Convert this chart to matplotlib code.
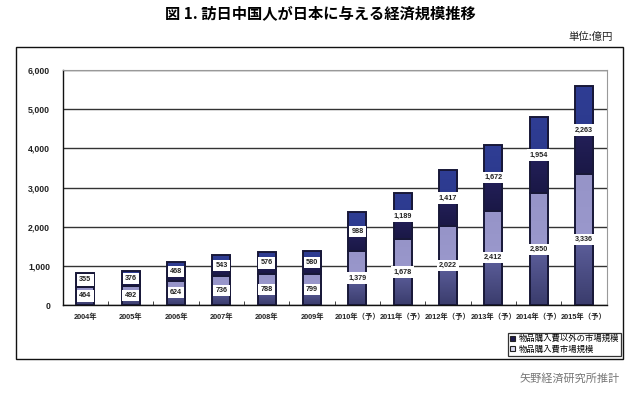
import numpy as np
import matplotlib
matplotlib.use("Agg")
import matplotlib.pyplot as plt
from matplotlib.colors import to_rgb
from matplotlib.patches import Rectangle, Patch

plt.rcParams['font.family'] = ['Liberation Sans', 'Noto Sans CJK JP', 'DejaVu Sans']

categories = ["2004年", "2005年", "2006年", "2007年", "2008年", "2009年",
              "2010年（予）", "2011年（予）", "2012年（予）", "2013年（予）",
              "2014年（予）", "2015年（予）"]
goods = [464, 492, 624, 736, 788, 799, 1379, 1678, 2022, 2412, 2850, 3336]
other = [355, 376, 468, 543, 576, 580, 988, 1189, 1417, 1672, 1954, 2263]
series_names = ["物品購入費以外の市場規模", "物品購入費市場規模"]
yticks = [0, 1000, 2000, 3000, 4000, 5000, 6000]

fig = plt.figure(figsize=(6.4, 3.97), dpi=100)
ax = fig.add_axes([0.098, 0.2317, 0.850, 0.592])

x = np.arange(len(categories))
w = 0.40
edge = '#181838'
b1 = ax.bar(x, goods, w, facecolor='none', edgecolor=edge, linewidth=1.4, zorder=3)
b2 = ax.bar(x, other, w, bottom=goods, facecolor='none', edgecolor=edge, linewidth=1.4, zorder=3)


def grad(c_lo0, c_lo1, c_hi0, c_hi1, n=200):
    t = np.linspace(0, 1, n)
    out = np.zeros((n, 1, 3))
    lo0, lo1, hi0, hi1 = map(np.array, map(to_rgb, (c_lo0, c_lo1, c_hi0, c_hi1)))
    for i, tt in enumerate(t):
        if tt < 0.5:
            s = tt / 0.5
            out[i, 0] = lo0 * (1 - s) + lo1 * s
        else:
            s = (tt - 0.5) / 0.5
            out[i, 0] = hi0 * (1 - s) + hi1 * s
    return out

g_goods = grad('#3a3c6c', '#5d5f9c', '#9a98cc', '#9694c8')
g_other = grad('#1a1846', '#24205a', '#2c3a8e', '#2f3d94')

for bars, g in ((b1, g_goods), (b2, g_other)):
    for p in bars:
        x0, y0 = p.get_x(), p.get_y()
        x1, y1 = x0 + p.get_width(), y0 + p.get_height()
        im = ax.imshow(g, extent=(x0, x1, y0, y1), origin='lower', aspect='auto', zorder=2)
        im.set_clip_path(p)

# data labels
for i in range(len(categories)):
    for val, base in ((goods[i], 0), (other[i], goods[i])):
        ax.text(x[i], base + val / 2, f"{val:,}", ha='center', va='center',
                fontsize=5.2, fontweight='bold', color='#222222', zorder=5,
                bbox=dict(boxstyle='square,pad=0.3', facecolor='white', edgecolor='none'))

ax.set_xlim(-0.5, len(categories) - 0.5)
ax.set_ylim(0, 6000)
ax.set_yticks(yticks)
ax.set_yticklabels([f"{v:,}" for v in yticks], fontsize=6.3, fontweight='bold', color='#222222')
ax.yaxis.grid(True, color='#333333', linewidth=1.0, zorder=0)
ax.set_axisbelow(True)
ax.tick_params(axis='y', length=0, pad=9)
ax.set_xticks(x)
ax.set_xticklabels(categories, fontsize=5.3, fontweight='bold', color='#222222')
ax.tick_params(axis='x', length=0, pad=6)
ax.set_xticks(np.arange(0.5, len(categories) - 0.5, 1), minor=True)
ax.tick_params(axis='x', which='minor', direction='in', length=3, color='#222222')
for s in ('left', 'bottom'):
    ax.spines[s].set_color('#111111')
    ax.spines[s].set_linewidth(1.0)
for s in ('top', 'right'):
    ax.spines[s].set_color('#999999')
    ax.spines[s].set_linewidth(0.8)

# legend
handles = [Patch(facecolor='#1e1b4d', edgecolor='#222222', linewidth=0.8),
           Patch(facecolor='#d8d8ee', edgecolor='#222222', linewidth=0.8)]
leg = fig.legend(handles, series_names, loc='upper right',
                 bbox_to_anchor=(621 / 640, (397 - 333) / 397),
                 fontsize=6, frameon=True, fancybox=False, edgecolor='black',
                 handlelength=0.6, handleheight=0.6, handletextpad=0.4,
                 borderpad=0.25, labelspacing=0.25, borderaxespad=0)
leg.get_frame().set_linewidth(0.9)

# outer frame
fig.patches.append(Rectangle((16 / 640, (397 - 359) / 397), (623 - 16) / 640, (359 - 47) / 397,
                             transform=fig.transFigure, fill=False, edgecolor='#111111',
                             linewidth=1.0))

fig.text(0.5, (397 - 13) / 397, "図 1. 訪日中国人が日本に与える経済規模推移",
         ha='center', va='center', fontsize=11, fontweight='bold',
         family=['Noto Sans CJK JP'])
fig.text(613 / 640, (397 - 37) / 397, "単位:億円", ha='right', va='center',
         fontsize=7.5, family=['Noto Sans CJK JP'], color='#222222')
fig.text(620 / 640, (397 - 379) / 397, "矢野経済研究所推計", ha='right', va='center',
         fontsize=8, family=['Noto Sans CJK JP'], color='#777777')

fig.savefig("out.png", dpi=100)
